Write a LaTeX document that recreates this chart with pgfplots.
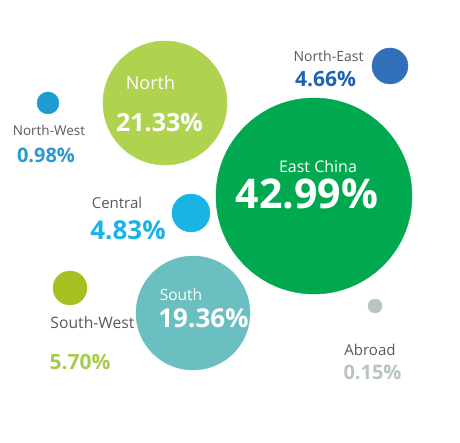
\documentclass[border=0pt]{standalone}
\usepackage{pgfplots}
\pgfplotsset{compat=1.18}
\usepackage{fontspec}
\setmainfont{Open Sans}
\definecolor{cNorth}{HTML}{B0D34F}
\definecolor{cEast}{HTML}{00A84F}
\definecolor{cNE}{HTML}{3170B8}
\definecolor{cNW}{HTML}{1E9BD2}
\definecolor{cCen}{HTML}{1AB4E4}
\definecolor{cSW}{HTML}{A8C021}
\definecolor{cSouth}{HTML}{6BBFC1}
\definecolor{cAbr}{HTML}{B8C4BF}
\definecolor{cNWtxt}{HTML}{2A9AD0}
\definecolor{cNEtxt}{HTML}{1F64B0}
\definecolor{cSWtxt}{HTML}{A6CC4C}
\definecolor{lab}{HTML}{595959}
\newcommand{\fs}[1]{\fontsize{#1bp}{#1bp}\selectfont}
\begin{document}
\begin{tikzpicture}
\begin{axis}[
  scale only axis, width=460bp, height=443bp,
  xmin=0, xmax=460, ymin=0, ymax=443, y dir=reverse,
  hide axis, clip=false, set layers,
]
\addplot[only marks, mark=*, mark size=62bp, color=cNorth] coordinates {(165,103)};
\addplot[only marks, mark=*, mark size=98bp, color=cEast] coordinates {(314,196)};
\addplot[only marks, mark=*, mark size=18bp, color=cNE] coordinates {(390,66)};
\addplot[only marks, mark=*, mark size=11bp, color=cNW] coordinates {(48,103)};
\addplot[only marks, mark=*, mark size=19bp, color=cCen] coordinates {(191,213)};
\addplot[only marks, mark=*, mark size=17bp, color=cSW] coordinates {(70,288)};
\addplot[only marks, mark=*, mark size=57bp, color=cSouth] coordinates {(193,313)};
\addplot[only marks, mark=*, mark size=7bp, color=cAbr] coordinates {(375,306)};

\begin{pgfonlayer}{axis foreground}
\node[text=white, font=\fs{18}] at (axis cs:150.5,83) {North};
\node[text=white, font=\fs{25}\bfseries] at (axis cs:159.5,123) {21.33\%};
\node[text=white, font=\fs{16}] at (axis cs:318,167) {East China};
\node[text=white, font=\fs{41}\bfseries] at (axis cs:307,194) {42.99\%};
\node[text=lab, font=\fs{14}] at (axis cs:328.5,56) {North-East};
\node[text=cNEtxt, font=\fs{21}\bfseries] at (axis cs:325.5,79) {4.66\%};
\node[text=lab, font=\fs{13.5}] at (axis cs:49,130) {North-West};
\node[text=cNWtxt, font=\fs{20}\bfseries] at (axis cs:46,155) {0.98\%};
\node[text=lab, font=\fs{15}] at (axis cs:117,203) {Central};
\node[text=cCen, font=\fs{26}\bfseries] at (axis cs:128,230) {4.83\%};
\node[text=white, font=\fs{15.5}] at (axis cs:181,295) {South};
\node[text=white, font=\fs{26}\bfseries] at (axis cs:203.5,318) {19.36\%};
\node[text=lab, font=\fs{15.7}] at (axis cs:92.5,323) {South-West};
\node[text=cSWtxt, font=\fs{21}\bfseries] at (axis cs:80,362) {5.70\%};
\node[text=lab, font=\fs{15}] at (axis cs:370,350) {Abroad};
\node[text=cAbr, font=\fs{20}\bfseries] at (axis cs:372.5,372) {0.15\%};
\end{pgfonlayer}
\end{axis}
\pgfresetboundingbox
\useasboundingbox (0,0) rectangle (460bp,443bp);
\end{tikzpicture}
\end{document}
